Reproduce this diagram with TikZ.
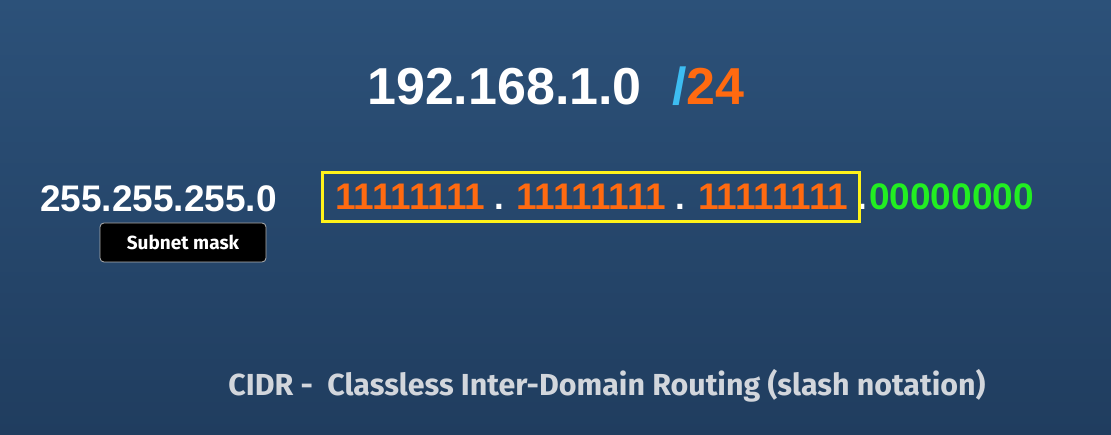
\documentclass[tikz,border=0pt]{standalone}
\usepackage{fontspec}
\usepackage{xcolor}
\usetikzlibrary{positioning}
\setmainfont{Liberation Sans}
\newfontfamily\labelfont{Fira Sans}

\definecolor{bgtop}{HTML}{2C5179}
\definecolor{bgbottom}{HTML}{203D5F}
\definecolor{slashblue}{HTML}{3DBDF2}
\definecolor{bitorange}{HTML}{FF6A10}
\definecolor{bitgreen}{HTML}{22EE22}
\definecolor{boxyellow}{HTML}{FFF21A}
\definecolor{captiongray}{HTML}{D2D6DC}

\begin{document}
\begin{tikzpicture}[
    x=1pt, y=1pt,
    txt/.style={inner sep=0pt, anchor=base west, font=\bfseries},
    bits/.style={txt, text=bitorange, font=\bfseries\fontsize{37}{37}\selectfont},
    sep/.style={txt, text=white, font=\bfseries\fontsize{35}{35}\selectfont},
    maskbox/.style={rectangle, draw=gray!60, fill=black, rounded corners=4pt, line width=0.8pt,
        minimum width=166pt, minimum height=39pt, text=white, font=\labelfont\bfseries\fontsize{19}{19}\selectfont}
]

% Background
\shade[top color=bgtop, bottom color=bgbottom] (0,0) rectangle (1111,434);
\useasboundingbox (0,0) rectangle (1111,434);

% Network address and prefix
\node[txt, text=white, font=\bfseries\fontsize{52}{52}\selectfont] (ip) at (367,329) {192.168.1.0};
\node[txt, font=\bfseries\fontsize{52}{52}\selectfont] (prefix) at (672,329) {\textcolor{slashblue}{/}\textcolor{bitorange}{24}};

% Subnet mask in decimal
\node[txt, text=white, font=\bfseries\fontsize{37}{37}\selectfont] (maskdec) at (40,222) {255.255.255.0};
\node[maskbox] (masklabel) at (183,191.5) {Subnet mask};

% Subnet mask in binary
\node[bits] (octA) at (335,224) {11111111};
\node[sep] (dotA) at (494,224) {.};
\node[bits] (octB) at (516,224) {11111111};
\node[sep] (dotB) at (675,224) {.};
\node[bits] (octC) at (698,224) {11111111};
\node[sep] (dotC) at (857,224) {.};
\node[bits, text=bitgreen] (octD) at (869,224) {00000000};

% Network part
\draw[boxyellow, line width=3pt] (322,261) rectangle (859,212);

% Caption
\node[inner sep=0pt, anchor=base, text=captiongray, font=\labelfont\bfseries\fontsize{30.4}{30.4}\selectfont] (caption) at (607,39)
    {CIDR -\ \ Classless Inter-Domain Routing (slash notation)};

\end{tikzpicture}
\end{document}
